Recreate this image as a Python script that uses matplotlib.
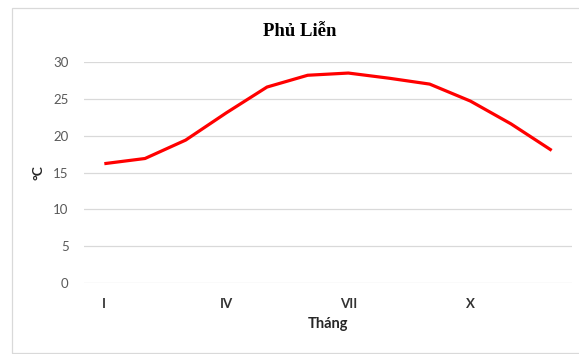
import matplotlib
matplotlib.use("Agg")
import matplotlib.pyplot as plt
from matplotlib.patches import Rectangle

# Monthly mean temperature at Phủ Liễn
months = ["I", "II", "III", "IV", "V", "VI", "VII", "VIII", "IX", "X", "XI", "XII"]
temperature = [16.2, 16.9, 19.4, 23.1, 26.6, 28.2, 28.5, 27.8, 27.0, 24.7, 21.6, 18.0]
shown_ticks = ["I", "IV", "VII", "X"]
y_ticks = [0, 5, 10, 15, 20, 25, 30]

W, H, DPI = 579, 354, 100
fig = plt.figure(figsize=(W / DPI, H / DPI), dpi=DPI)
fig.patch.set_facecolor("white")

# outer chart frame
fig.patches.append(Rectangle((11.5 / W, 1 - 352.5 / H), (590 - 11.5) / W, (352.5 - 7.5) / H,
                             transform=fig.transFigure, fill=False,
                             edgecolor="#D9D9D9", linewidth=0.9))

left, right, top, bottom = 84, 572, 62, 283
ax = fig.add_axes([left / W, 1 - bottom / H, (right - left) / W, (bottom - top) / H])

x = list(range(1, len(months) + 1))
ax.plot(x, temperature, color="#FF0000", linewidth=2.3, solid_joinstyle="round",
        solid_capstyle="butt", zorder=3)

ax.set_xlim(0.5, len(months) + 0.5)
ax.set_ylim(0, 30)
ax.set_yticks(y_ticks)
ax.set_yticklabels([str(v) for v in y_ticks], fontsize=9.5, color="#595959",
                   family="Lato")
ax.set_xticks([months.index(m) + 1 for m in shown_ticks])
ax.set_xticklabels(shown_ticks, fontsize=9.5, color="#333333", fontweight="bold",
                   family="Lato")
ax.tick_params(axis="y", length=0, pad=11)
ax.tick_params(axis="x", length=0, pad=11)

ax.grid(axis="y", color="#D9D9D9", linewidth=0.9, zorder=0)
ax.set_axisbelow(True)
for s in ax.spines.values():
    s.set_visible(False)

ax.set_ylabel("°C", fontsize=10, fontweight="bold", color="#262626", family="Lato",
              labelpad=6)
ax.set_xlabel("Tháng", fontsize=10.5, fontweight="bold", color="#262626", family="Lato",
              labelpad=5)

fig.text(300 / W, 1 - 32 / H, "Phủ Liễn", ha="center", va="center", fontsize=13.5,
         fontweight="bold", family="Liberation Serif", color="black")

fig.savefig("out.png", dpi=DPI, facecolor="white")
